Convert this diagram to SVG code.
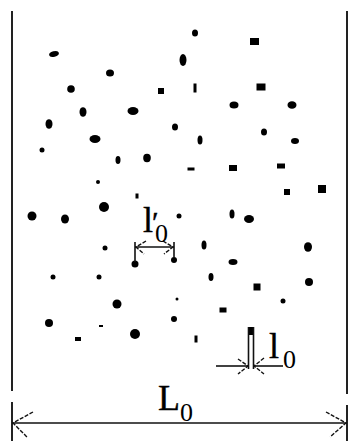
<svg xmlns="http://www.w3.org/2000/svg" width="349" height="441" viewBox="0 0 349 441">
<style>
.bg{fill:#fff}
.wall{stroke:#222;stroke-width:2;fill:none}
.dim{stroke:#111;stroke-width:1.6;fill:none}
.head{stroke:#111;stroke-width:1.4;fill:none;stroke-dasharray:4 1.5}
.p{fill:#000}
.lbl{font-family:"Liberation Serif","Times New Roman",serif;font-size:36px;fill:#000;stroke:#000;stroke-width:0.4}
.sub{font-size:26px;stroke-width:0}
</style>
<rect class="bg" x="0" y="0" width="349" height="441"/>
<g id="walls">
<line class="wall" x1="12" y1="11" x2="12" y2="391"/>
<line class="wall" x1="12" y1="402" x2="12" y2="441"/>
<line class="wall" x1="347" y1="11" x2="347" y2="394"/>
<line class="wall" x1="347" y1="405" x2="347" y2="441"/>
</g>
<g id="particles">
<ellipse class="p" cx="54" cy="54" rx="5" ry="2.8" transform="rotate(-15 54 54)"/>
<ellipse class="p" cx="195" cy="33" rx="3" ry="3.5"/>
<rect class="p" x="250" y="38" width="9" height="7"/>
<ellipse class="p" cx="183" cy="60" rx="3.5" ry="6"/>
<ellipse class="p" cx="110" cy="73" rx="4" ry="3.5"/>
<circle class="p" cx="71" cy="89" r="3.8"/>
<rect class="p" x="158" y="88" width="6" height="6"/>
<rect class="p" x="193.5" y="83.5" width="3" height="9"/>
<rect class="p" x="256.5" y="83.5" width="9" height="7"/>
<ellipse class="p" cx="83" cy="112" rx="3.5" ry="4.8"/>
<ellipse class="p" cx="133" cy="111" rx="5.5" ry="4"/>
<ellipse class="p" cx="234" cy="105" rx="4.5" ry="3.5"/>
<ellipse class="p" cx="292" cy="105" rx="4.5" ry="3.8"/>
<ellipse class="p" cx="49" cy="124" rx="3.5" ry="4.8"/>
<ellipse class="p" cx="175" cy="127" rx="3" ry="3.5"/>
<ellipse class="p" cx="95" cy="139" rx="5.5" ry="4"/>
<circle class="p" cx="42" cy="150" r="2.5"/>
<ellipse class="p" cx="200" cy="140" rx="2.5" ry="4.5"/>
<ellipse class="p" cx="264" cy="132" rx="3" ry="3.5"/>
<ellipse class="p" cx="295" cy="141" rx="4" ry="3"/>
<ellipse class="p" cx="118" cy="160" rx="2.5" ry="4"/>
<ellipse class="p" cx="147" cy="158" rx="3.8" ry="4.2"/>
<rect class="p" x="187.5" y="167.5" width="7" height="3"/>
<rect class="p" x="229" y="165" width="8" height="6"/>
<rect class="p" x="277" y="163.5" width="8" height="5"/>
<circle class="p" cx="98" cy="182" r="2"/>
<rect class="p" x="284" y="189" width="6" height="6"/>
<rect class="p" x="318" y="185" width="8" height="8"/>
<rect class="p" x="135.5" y="193.5" width="3" height="5"/>
<circle class="p" cx="104" cy="207" r="5"/>
<circle class="p" cx="179" cy="216" r="2.5"/>
<ellipse class="p" cx="232" cy="214" rx="2.5" ry="4.5"/>
<ellipse class="p" cx="249" cy="219" rx="5" ry="4"/>
<circle class="p" cx="32" cy="216" r="4.5"/>
<ellipse class="p" cx="65" cy="219" rx="4" ry="4.5"/>
<circle class="p" cx="105" cy="248" r="2.5"/>
<ellipse class="p" cx="204" cy="245" rx="2.5" ry="4.5"/>
<ellipse class="p" cx="308" cy="247" rx="4" ry="4.8"/>
<circle class="p" cx="135" cy="264" r="3.5"/>
<circle class="p" cx="174" cy="260" r="3"/>
<ellipse class="p" cx="233" cy="262" rx="4.5" ry="3"/>
<circle class="p" cx="53" cy="277" r="2.5"/>
<circle class="p" cx="99" cy="277" r="2.5"/>
<ellipse class="p" cx="211" cy="277" rx="2.5" ry="4"/>
<rect class="p" x="253.5" y="283.5" width="7" height="7"/>
<circle class="p" cx="309" cy="282" r="4"/>
<circle class="p" cx="177" cy="299" r="1.5"/>
<circle class="p" cx="283" cy="301" r="2.5"/>
<circle class="p" cx="117" cy="304" r="4.5"/>
<rect class="p" x="219.5" y="307.5" width="7" height="5"/>
<circle class="p" cx="174" cy="319" r="3"/>
<circle class="p" cx="49" cy="323" r="4"/>
<rect class="p" x="99" y="325" width="4" height="2"/>
<rect class="p" x="75" y="337" width="6" height="4"/>
<circle class="p" cx="135" cy="334" r="5"/>
<rect class="p" x="194.5" y="335.5" width="3" height="7"/>
</g>
<g id="connectors">
<g id="dim-L0">
<line class="dim" x1="12" y1="423" x2="347" y2="423"/>
<path class="head" d="M33 412 L13 423 L27 437"/>
<path class="head" d="M326 412 L346 423 L330 437"/>
</g>
<g id="dim-l0prime">
<line class="dim" x1="135" y1="242" x2="135" y2="262"/>
<line class="dim" x1="174" y1="242" x2="174" y2="258"/>
<line class="dim" x1="135" y1="247" x2="174" y2="247"/>
<path class="head" d="M146 241 L136 247 L144 254"/>
<path class="head" d="M163 241 L173 247 L164 254"/>
</g>
<g id="dim-l0">
<rect class="p" x="248" y="327" width="6" height="8"/>
<line class="dim" x1="248.5" y1="327" x2="248.5" y2="369"/>
<line class="dim" x1="253.5" y1="327" x2="253.5" y2="369"/>
<line class="dim" x1="216" y1="366" x2="248" y2="366"/>
<line class="dim" x1="254" y1="366" x2="283" y2="366"/>
<path class="head" d="M238 359 L248 366 L238 374"/>
<path class="head" d="M264 358 L254 366 L264 374"/>
</g>
</g>
<g id="labels">
<text class="lbl" x="158" y="410">L<tspan class="sub" x="180" y="421">0</tspan></text>
<text class="lbl" x="143" y="232">l<tspan x="152" y="232" font-size="30px">′</tspan><tspan class="sub" x="155" y="242">0</tspan></text>
<text class="lbl" x="269" y="358">l<tspan class="sub" x="283" y="368">0</tspan></text>
</g>
</svg>
